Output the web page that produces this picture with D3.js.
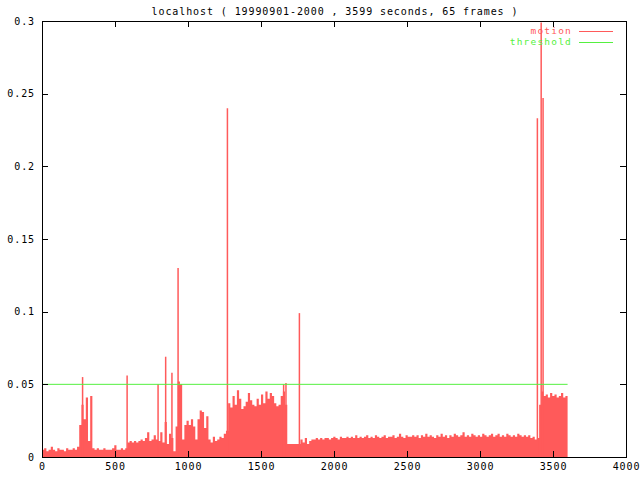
<!DOCTYPE html>
<html>
<head>
<meta charset="utf-8">
<script src="https://cdn.jsdelivr.net/npm/d3@7"></script>
<style>
  html, body { margin: 0; padding: 0; background: #fff; }
  svg { display: block; }
  text { font-family: "DejaVu Sans Mono", "Liberation Mono", monospace; font-size: 10px; letter-spacing: 0.9px; }
</style>
</head>
<body>
<svg id="chart" width="640" height="480"></svg>
<script>
// ---- data ----
const title = "localhost ( 19990901-2000 , 3599 seconds, 65 frames )";
const sampleStep = 15;           // seconds between samples
const duration = 3600;
const motion = [
  0.005,0.006,0.004,0.005,0.007,0.005,0.004,0.006,0.005,0.005,
  0.004,0.006,0.005,0.005,0.006,0.005,0.007,0.022,0.036,0.026,
  0.041,0.011,0.042,0.006,0.005,0.006,0.005,0.005,0.006,0.005,
  0.005,0.005,0.006,0.008,0.005,0.005,0.006,0.005,0.006,0.010,
  0.011,0.010,0.011,0.010,0.011,0.012,0.011,0.013,0.017,0.011,
  0.012,0.015,0.012,0.011,0.017,0.010,0.024,0.009,0.016,0.013,
  0.004,0.021,0.052,0.050,0.012,0.022,0.025,0.022,0.026,0.021,
  0.012,0.026,0.032,0.031,0.020,0.028,0.012,0.010,0.014,0.011,
  0.012,0.014,0.013,0.016,0.018,0.037,0.034,0.042,0.036,0.046,
  0.040,0.033,0.035,0.038,0.044,0.039,0.036,0.035,0.040,0.036,
  0.043,0.037,0.045,0.040,0.044,0.042,0.037,0.035,0.036,0.042,
  0.045,0.036,0.009,0.009,0.009,0.009,0.009,0.009,0.012,0.010,
  0.013,0.009,0.011,0.012,0.012,0.013,0.012,0.013,0.012,0.013,
  0.013,0.012,0.013,0.014,0.013,0.012,0.014,0.013,0.013,0.014,
  0.013,0.014,0.013,0.015,0.013,0.014,0.013,0.014,0.015,0.013,
  0.014,0.013,0.015,0.014,0.013,0.014,0.015,0.013,0.014,0.014,
  0.015,0.013,0.014,0.016,0.014,0.013,0.015,0.014,0.014,0.015,
  0.014,0.015,0.013,0.015,0.014,0.016,0.014,0.015,0.014,0.013,
  0.015,0.014,0.016,0.014,0.015,0.013,0.015,0.014,0.016,0.015,
  0.014,0.015,0.017,0.014,0.015,0.014,0.016,0.015,0.014,0.015,
  0.014,0.016,0.015,0.014,0.015,0.016,0.014,0.015,0.016,0.014,
  0.015,0.014,0.016,0.015,0.014,0.015,0.014,0.016,0.015,0.014,
  0.015,0.014,0.015,0.013,0.014,0.012,0.013,0.036,0.045,0.042,
  0.043,0.041,0.044,0.042,0.043,0.041,0.042,0.044,0.041,0.042
];
const spikeTimes  = [278, 583, 795, 847, 890, 932, 1270, 1655, 1671, 1763, 3393, 3419, 3432];
const spikeValues = [0.055, 0.056, 0.050, 0.069, 0.058, 0.130, 0.240, 0.050, 0.051, 0.099, 0.233, 0.299, 0.247];
const threshold = 0.05;
const xTicks = [0, 500, 1000, 1500, 2000, 2500, 3000, 3500, 4000];
const xTickLabels = ["0", "500", "1000", "1500", "2000", "2500", "3000", "3500", "4000"];
const yTicks = [0, 0.05, 0.1, 0.15, 0.2, 0.25, 0.3];
const yTickLabels = ["0", "0.05", "0.1", "0.15", "0.2", "0.25", "0.3"];
const legendNames = ["motion", "threshold"];

// ---- layout ----
const red = "#ff5a5a", green = "#55f040";
const L = 42, R = 626, T = 21, B = 457;
const svg = d3.select("#chart");
const x = d3.scaleLinear().domain([0, 4000]).range([L, R]);
const y = d3.scaleLinear().domain([0, 0.3]).range([B, T]);

// motion area (step)
const pts = motion.map((v, i) => [i * sampleStep, v]);
pts.push([duration, motion[motion.length - 1]]);
const area = d3.area().curve(d3.curveStepAfter)
  .x(d => x(d[0])).y0(y(0)).y1(d => y(d[1]));
svg.append("path").datum(pts).attr("d", area).attr("fill", red);

// spikes (impulses)
svg.append("g").selectAll("line").data(spikeTimes).join("line")
  .attr("x1", d => x(d)).attr("x2", d => x(d))
  .attr("y1", y(0)).attr("y2", (d, i) => y(spikeValues[i]))
  .attr("stroke", red).attr("stroke-width", 1.5);

// threshold
svg.append("line")
  .attr("x1", x(0)).attr("x2", x(duration))
  .attr("y1", y(threshold)).attr("y2", y(threshold))
  .attr("stroke", green).attr("stroke-width", 1);

// axes
const gBottom = svg.append("g").attr("transform", `translate(0,${B})`)
  .call(d3.axisBottom(x).tickValues(xTicks).tickFormat((d, i) => xTickLabels[i]).tickSize(-6).tickSizeOuter(0).tickPadding(6));
const gLeft = svg.append("g").attr("transform", `translate(${L},0)`)
  .call(d3.axisLeft(y).tickValues(yTicks).tickFormat((d, i) => yTickLabels[i]).tickSize(-6).tickSizeOuter(0).tickPadding(7));
const gTop = svg.append("g").attr("transform", `translate(0,${T})`)
  .call(d3.axisTop(x).tickValues(xTicks).tickFormat("").tickSize(-6).tickSizeOuter(0));
const gRight = svg.append("g").attr("transform", `translate(${R},0)`)
  .call(d3.axisRight(y).tickValues(yTicks).tickFormat("").tickSize(-6).tickSizeOuter(0));
[gBottom, gLeft, gTop, gRight].forEach(g => {
  g.select(".domain").remove();
  g.selectAll("line").attr("stroke", "#000").attr("shape-rendering", "crispEdges");
  g.selectAll("text").attr("fill", "#000").style("font-family", "DejaVu Sans Mono, monospace")
    .style("font-size", "10px").style("letter-spacing", "0.9px");
});
svg.append("rect").attr("x", L + 0.5).attr("y", T + 0.5).attr("width", R - L).attr("height", B - T)
  .attr("fill", "none").attr("stroke", "#000").attr("stroke-width", 1).attr("shape-rendering", "crispEdges");

// title
svg.append("text").attr("x", 335).attr("y", 12).attr("text-anchor", "middle")
  .attr("dominant-baseline", "middle").attr("fill", "#000").text(title);

// legend
const legColors = [red, green];
const leg = svg.append("g");
legendNames.forEach((n, i) => {
  const ly = 31.5 + i * 11;
  leg.append("text").attr("x", 572).attr("y", ly).attr("text-anchor", "end")
    .attr("dominant-baseline", "middle").attr("fill", legColors[i])
    .style("font-size", "9.5px").style("letter-spacing", "1.2px").text(n);
  leg.append("line").attr("x1", 579).attr("x2", 613).attr("y1", ly).attr("y2", ly)
    .attr("stroke", legColors[i]).attr("stroke-width", 1);
});
</script>
</body>
</html>
